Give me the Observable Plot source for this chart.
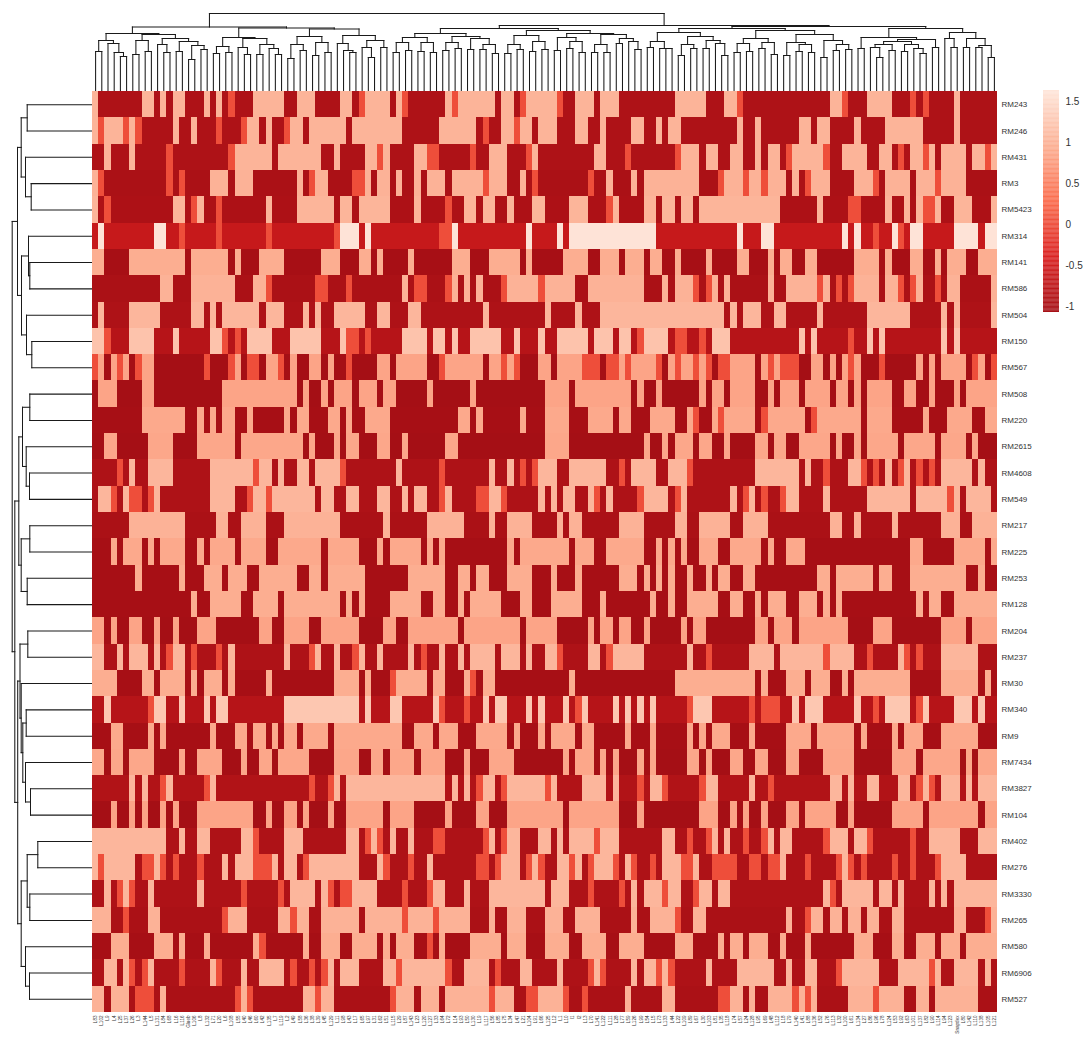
<!DOCTYPE html>
<html>
<head>
<meta charset="utf-8">
<script src="https://cdn.jsdelivr.net/npm/d3@7"></script>
<script src="https://cdn.jsdelivr.net/npm/@observablehq/plot@0.6"></script>
<style>
  html, body { margin: 0; padding: 0; background: #fff; }
  #chart { position: relative; width: 1083px; height: 1039px; overflow: hidden; }
  #chart svg { position: absolute; max-width: none; }
</style>
</head>
<body>
<div id="chart"></div>
<script>
const rowLabels = ["RM243","RM246","RM431","RM3","RM5423","RM314","RM141","RM586","RM504","RM150","RM567","RM508","RM220","RM2615","RM4608","RM549","RM217","RM225","RM253","RM128","RM204","RM237","RM30","RM340","RM9","RM7434","RM3827","RM104","RM402","RM276","RM3330","RM265","RM580","RM6906","RM527"];

const colLabels = ["L83","L102","L9","L4","L25","L37","L26","L3","L144","L5","L131","L84","L68","L16","L116","Glueb","L106","L8","L132","L71","L20","L6","L108","L55","L40","L46","L60","L42","L135","L7","L119","L2","L49","L58","L36","L38","L39","L45","L129","L11","L98","L43","L17","L65","L97","L31","L62","L51","L115","L29","L87","L143","L23","L120","L127","L33","L64","L72","L14","L93","L50","L130","L19","L117","L56","L85","L75","L34","L47","L21","L104","L91","L66","L125","L12","L1","L10","I1","I2","L13","L70","L141","L122","L111","L28","L77","L59","L126","L99","L54","L15","L73","L133","L44","L22","L109","L89","L67","L30","L103","L81","L35","L118","L74","L57","L24","L128","L95","L69","L48","L112","L18","L79","L140","L41","L88","L136","L52","L76","L113","L32","L100","L61","L134","L27","L86","L96","L78","L124","L53","L92","L63","L101","L137","L82","L90","L114","L94","L123","Snapdex","L80","L142","L110","L138","L105","L121"];

// Standardised level of each row's low and high marker state
const rowLow  = [-0.95,-0.95,-0.95,-1.0,-0.97,-0.65,-1.05,-1.0,-0.95,-0.85,-1.07,-1.07,-1.05,-1.07,-0.95,-0.95,-1.0,-1.05,-1.05,-1.05,-1.07,-0.95,-1.05,-0.85,-1.05,-1.07,-0.92,-1.07,-0.95,-0.95,-0.95,-1.0,-1.05,-0.95,-1.0];
const rowHigh = [1.02,1.02,1.02,1.0,1.03,1.6,0.95,1.0,1.05,1.2,0.85,0.85,0.9,0.88,1.05,1.05,1.0,0.9,0.95,0.95,0.85,1.05,0.95,1.25,0.9,0.88,1.05,0.85,1.05,1.05,1.05,1.0,0.95,1.05,1.0];
const rowMid = 0.02;

// Run lengths across the 146 columns: d = low state, o = middle state, l = high state
const rowRuns = [
"l1d7l2d1l1d1l2d3l1d1l1d1o1d3l5d2l3d4l2d1o1l4d1l1o1d6l1o1l6d1l2d1o1l3 l2o1d2l3d1l3d9l5d3l2o1d14l2o1d3l4d3o1d1o1d4l1d6",
"l1o1l3o1l1o1d5l1d2l1d3o1d3o1l2d1l1d2o1l2d1l6d1l8d6l6d1o1d2l2o1l2d1l1 l2d3l2d2l1d4l2d2l1d1l2d9l1d2l1d6l2d1l2d4l1d4l6d5l1d6",
"d2l1d3l1d5o1d9o1l6d1l7d2l1d4l2o1l1d4l2o2d5o1d2l3d3o1l1d1 d8l2d3o1d7o1l3d1l2d2l2d2l1d1l2d1o1l5o1d2l4d2l2d1o1d1l2o1l1d1l4d1l2o1l1",
"l1o1d10o1d1o1d4l3d1l3d7l1d1o1l2d4o2l1d1l2d1l1d2l1d1l3d1l5o1l3d2l1d1o1d1 d7o1d2l1d3l1d1l9d3o1l3o1l2o1l3d1l1d1o1l1l2d4l3o1d1l4d1l3o1l4d5",
"l1d1o1d10l2d1o1l1d2o1d7l1d4l6d1l2d1l5d4l1d4o1d2l2d1l2d2l1d3l2 d4l3d3o1l1d4l2d1l2d1l2d1l13d6l1d4o2d4l1d2l1d1l1o2l1d2l3d3l1",
"d1l1d8l2d2o1d5o1d7o1d10o1l3d1l1d11o2l1d11l1d2 d2l1d1l14d13l1d3l2d11l1d1l1d2o1d2l1o1d1l2d5l4d1l2",
"l2d4l9d1l6d1l1d3l4d6l3d3l2d1l1d4l1d6l3d3l5d1l1d2 d3l4d2l3d1l3d1l2d2l1d4l1d4l2d3l1d1l2d2l2d6l4d1l1d3l2d2l1d1l3d2l3",
"d11l2d3l7d3l2o1d7o2d3o1d8l1d1o2d3o1l1d1l1d1l1d3o1l5o1 l5d2l9d3l1d1l3o1d1o1l1d1l1d6l1d2l5o1l1d1o1d1o1l4d1l2o1d1o1l1d2o1d1l2d5l1",
"d1l1d4l5d5l2d1l1d1l6d1l3d3l1d1l1d2l5d2l2d3l2d10l1d9 l1d4l1d3l20d1l1d1l3d2l2d5l1d7l7d5l1d1l1d5l1",
"l2o1d3l4d3l1d5l2o1d1o1d1l4d3l5d3l1o2d1o1d5l4d1l2d1l1d2l5d2l1d3l1 d2l5d1l3d1l2d1o1l4d1o2d2o1d1l3d11l1d1l1d5o1d2l1d1l1d9l1d1l1d6",
"o1l1d1l1o1l1d1o1l2d8o1d3o1l1d1o2d1l2o1d1l1d2l2d1l1d2o1d4l2d1l5d2o1l6d1l2o1l1o1d3l1 l1d1l4o3d1o2l1o1l4o1d1l1o1l2o1l1o1d1o2l4d1l1o1l1o3d2l2d1l1d1l1o1l1d3o1d5l1d1l1d1l4d1o1l1d1o1",
"d1l3d4l2d11l12d1l1d2l1d1l3d1l3d1l2d5l1d6l1d11 l4d1l9d1l1d2l1d6l1d1l2d1l4d2l1d1l3d1l4d1l2d1l1d1l4d2l2d2l1d3l1d1l5",
"d8l7d2l1d1l1d1l2d2l1d5l1d1l2d3l2d1l1d2l4d11l2d1l1d6l1d3 l4d3l4d1l2d3l4d2l1o1d2l1o1l5d1o1l6d1o1l7d1l4d5l1d3l4d2l2",
"d2l2d5l4d4l6d1l10d1l1d3l1d1l2d3l2d2l1d6l2d14 l4d12l1d2l1d1l3d1l2d2l1d4l2d1l2d2l5d1l1d2l1d1l5d1l5d1l4d1l1d3",
"d4o1d1l1d2l4d6l7o1l2d1l1d2l2d1l4o1d8l1d6o1d7l1d2l1d1o1d1o1l1 l2d2l6d2o1d1l4d2l3o1d10l7d1l1d2o1d3l2o1d1o1d1l1d1o1l1d1o1d1o1d1l5d1l1d2",
"d1l2o1d1l1o2d1o1l1d8l4d2o1l2o1l7d1l2d2l2d3l2d2l1d1l2d2o1l1d4o2l2o1d5l1 d1l1d1l2d2l1o1d1l1d4o1l4d1o1l1d7l1d1o1l1d1o1d2o1l2d4l1d6l7d1l5o1l1d1l4d1",
"d6l9d5l2d2l4d3l9d7l1d6l6d4l1d2l4d2 d2l1d1l2d6l4d5l2d2l5d2l4d10l2d2l1d5l1d7l3d2l4",
"d3l1d1l3d1l1d1l4d2l1d1l4d1l4d2l7d1l5d3l1d1l5d1l1d1l1d10l1d1l4 l4d1l3d2l6d2l1d1l1d1l1d2l3d2l5d1l1d2l3d17l2d5l5d1l1",
"d7l1d6l1d3l3d1l3d2l6d2l2d1l6d7l6d2l2d1l2d3l4d2 d1l1d3l1d6l3d1l1d1l1d1l1d2l1d2l1d1l2d2l2d10l2d1l6d1l2d3l9d2l1d2",
"d16l1d2l5d2l4d1l9d1l1d1l1d4l5d2l2d2l1d1l5d3l2d2 d1l5d3l1d7l1d2l1d2l5d2l2d2l1d1l3d2l3d1l1d1l1d12l1d1l2d2l7",
"l2d1l1d2l2d2l1d2l1d3l3d7l2d2l4d2l6d4l2d2l8d1l9d1l3 l2d5l1d1l2d1l2d2l1d5l1d1l2d8l2d1l3d1l8d4l3d8l4d1l4",
"l2d2l1d1l3d1l1d1o1l2d1o1d3o1d1l1d8l1d3o1l1d2l1d2o1l1d2l1d4l1d1o1d2l1d2l1d1l4d1l3d1l1d2 l2o1d4l2d1o1l5d7l1d2o1d6l4d1l7o1l4d2o1d4l1o1d1o1d3l6d3",
"l4d4l2d1l4d1l1d1l3d1l1d5l1d10l4d1l1d3o1l5d1l2d3l1o1d1l2d8 d4l1d16l13d1l1d3l3d1l3d2l1d1l9d5l6d1l1d1",
"d2l1d6o1l2d2l1d3l1d1l2d9l12d1l1d3l2d5l1o1d3o1d2l1d1l2d3l1d1l1 d3l1d1o1l1d4l1d1l1d1l1d1l1d5o1l3d6o1d1o3d2l1d1l3d5l1d2o1d1l4d1o1l1d4l3d1l1d2",
"d3l2d4l1d1l1d7l1d3l2d1l2d1l1d1l2d1l4d1l11d2l3d1l3d3l5d1l1d3l1 d1l4d1l2d5l1d3l1d5l1d1l1d1l3d3l1d5l4d1l6d1l1d4l1d1l3d3l6d3",
"l2d1l2d1l4d4l1d2l4d3l1d2l2d1l5d4l4d2l2d1l4d1l4d3l1d3l4d5 d3l1d1l3d1l1d1l1d3l1d1l1d5l2d1l1d3l2d2l2d3l2d4l5d6l4d1l6d1l1d1l3",
"d6l1d1l1d2o1l1d5o1l1d15o1d2o1l1d1l16d1l1d1l1d1o1l2d1o1l6 o1l1d4l4d1l1d3o1d1l2o1d5o1l2d5l1d2o1d9l2d1l1d2l2d3l2d1o1l1o1d1l3d1l1d1l3",
"d3l1d2l1d1l1d2l1d1l1d3l9d2l1d2l2d1l1d3l1d2l6d1l4d5l1d4l2d3l6 l3d1l8d3l1d9l3d2l1d1l1d2l1d3l2d1l5d2l1d6l5d1l8d1l2",
"l12d2l1d2l2d5l2o1d4l3d7l2d1o1l1o1d1l1d2l1d3o2d6o1l1d1o1l2d3l1 l1d1l1d1l4o1l3d7l2d2o1d2o1l1d1l1d2o1d2o1l1d1l2d5o1l3d1l2o1d6o1d2l5d3l3",
"l1o1l5d1o2l1o1d1o1d3o1d3l1d1l3o3l1d1l2d1o1l8d3l1o1d3o1d2l1d7o2d1o1l3d1o1l1o1 d2l2o1l1d1o1l3o1d1l1o1d2o1d1l3o2l1d2o4d2o2d1o2l1d3o1d4o1l1o1d1o1d4o1d2o1d3o1l4d5",
"d2l1d1o1l1o1d2l1d7l1d6o1d5o1d1l4d1l1o1d1o2l4d4o1d3o1l2d3l1d3l9 d1l3d3o1d4o1d1l1d1l3o1l2d2o1l2d1l2d15l1o1d1l5d1l2d1l1d4l1d1l1d1l7",
"l3d2o1d3l2d10o1l3d5l2o1l2d2l6d1l6o1l4o1l5d3l1d2l3d3 l3d2l4d5l1d2l4o1d2l2d13l1d2o1l2d1l2d1l2d1l2d2l2d8l2d3o1l1",
"d3l3d4l3d1l1d3l1d7l1o1d6l1d2l3d2l4d1l1d1l3d2o1d1l1d4l5d1l3d3 l4d2l4d2l4d5l3d4l1d1l2d1l3d2l1d3l1d7l3d3l2d2l3d1l3d1l5",
"d2l2d1l1o1d1o1l1d4o1d4l1o1d3l1d2l4d1o1d2o1d1o1l1d1l1l2d4l2o1l7o1d2l4d1o1d3l2d2 d2l1d4o1l1o1d4l1d1l2o1l1o1d5l1d4l6d2l1d2l2d3o1l6d3l5o1l1d2l4d1l1d1",
"l2d1l3d1o3d1l1d11o1l1o1d8l2o1l2d9o1l3d1l3d1l7o1l3d2o2l1 l3o1d2o1d6l1d5l2d7o2l2d1l1d2l4o1l1o1l1d5l4o1l4d2l2d1l7d3"
];

// Merge trees: [merge height, left branch, right branch]; 0 is a leaf
const colTree =
[78,
  [64.5,
    [58,
      [51,[40,0,0],[48,0,[39,0,[35,0,0]]]],
      [57,
        [51,[37,0,0],[40,0,0]],
        [53,[47,0,[39,0,0]],[50,[40,0,0],[46,[32,0,0],[42,0,0]]]]]],
    [63.5,
      [54,[45,[38,0,0],[39,0,0]],[53,[44,0,[37,0,0]],[47,[37,0,0],[43,0,[37,0,0]]]]],
      [62.5,
        [55,[47,[33,0,0],[41,0,0]],[49,[36,0,0],[39,0,0]]],
        [56,[48,0,[41,0,[39,0,0]]],[51,[44,0,[34,0,0]],[44,0,0]]]]]],
  [66,
    [63,
      [58,
        [54,[49,[39,0,0],[41,0,0]],[49,[40,0,0],[39,0,0]]],
        [55,[49,[41,0,0],[43,0,0]],[53,[42,0,0],[47,[42,0,0],[38,0,0]]]]],
      [61,
        [56,[47,[38,0,0],[42,0,0]],[50,[40,0,0],[42,0,0]]],
        [58,
          [54,[41,0,0],[50,[43,0,0],[39,0,0]]],
          [57,[47,[39,0,0],[39,0,0]],[53,[48,0,0],[50,0,[42,0,0]]]]]]],
    [65,
      [63,
        [59,
          [50,[44,0,0],[43,0,[43,0,0]]],
          [55,[47,[36,0,0],[43,0,0]],[51,[43,0,0],[48,0,[36,0,0]]]]],
        [61,
          [53,[48,[39,0,0],[40,0,0]],[49,[43,0,0],[37,0,0]]],
          [57,
            [49,[36,0,0],[47,[40,0,0],[39,0,0]]],
            [51,[34,0,0],[47,[41,0,0],[42,0,0]]]]]],
      [63,
        [54,
          [43,0,0],
          [52,
            [50,[47,[44,0,[34,0,0]],[41,0,0]],[47,[40,0,0],[43,0,[38,0,0]]]],
            [44,0,0]]],
        [59,
          [53,0,[44,0,0]],
          [53,[44,0,0],[46,[44,0,0],[34,0,0]]]]]]]];

const rowTree =
[80.3,
  [75,
    [71.3,[65.3,0,0],[67,0,[61.3,0,0]]],
    [71,[64,0,[62.7,0,0]],[66,0,[60.7,0,0]]]],
  [77.7,
    [73.7,
      [70,[62.7,0,0],[66.3,0,[63,0,0]]],
      [71.3,[62.7,0,0],[65.3,0,0]]],
    [74.8,
      [72.5,[64.7,0,0],[71.3,0,[69.7,[66.3,0,0],[67,0,[62,0,0]]]]],
      [71.3,[65.3,[54.7,0,0],[62.7,0,0]],[67,0,[63,0,0]]]]]];

const colorTicks = [-1,-0.5,0,0.5,1,1.5];
const colorDomain = [-1.07,-0.3975,0.275,0.9475,1.62];
const colorRange = ["#a50f15","#da1f1f","#fb6a4a","#fcae91","#fee5d9"];

const cells = [];
rowRuns.forEach((runs, r) => {
  let c = 0;
  for (const [, state, n] of runs.matchAll(/([dol])(\d+)/g)) {
    const value = state === "d" ? rowLow[r] : state === "l" ? rowHigh[r] : rowMid;
    for (let k = 0; k < +n; k++) cells.push({col: c++, row: rowLabels[r], value});
  }
});

function treeLinks(tree) {
  const links = [];
  let next = 0;
  (function walk(node) {
    if (node === 0) return {pos: next++ + 0.5, h: 0};
    const [h, a, b] = node;
    const ca = walk(a), cb = walk(b);
    links.push({p1: ca.pos, p2: cb.pos, h1: h, h2: h});
    links.push({p1: ca.pos, p2: ca.pos, h1: ca.h, h2: h});
    links.push({p1: cb.pos, p2: cb.pos, h1: cb.h, h2: h});
    return {pos: (ca.pos + cb.pos) / 2, h};
  })(tree);
  return links;
}

const font = "'Liberation Sans', Arimo, Helvetica, sans-serif";
const color = {type: "linear", domain: colorDomain, range: colorRange, clamp: true};
const nCols = d3.range(146);

const heat = Plot.plot({
  width: 1083, height: 1039,
  marginLeft: 92, marginRight: 86, marginTop: 91, marginBottom: 27,
  style: {background: "transparent", fontFamily: font},
  x: {type: "band", domain: nCols, padding: 0, round: false},
  y: {type: "band", domain: rowLabels, padding: 0, round: false},
  color,
  marks: [
    Plot.cell(cells, {x: "col", y: "row", fill: "value", shapeRendering: "crispEdges"}),
    Plot.axisY({anchor: "right", tickSize: 0, tickPadding: 4, fontSize: 8, label: null, fill: "#333"}),
    Plot.axisX({anchor: "bottom", tickSize: 0, tickPadding: 3, fontSize: 4.6, label: null, tickRotate: -90,
                fill: "#333", tickFormat: i => colLabels[i]})
  ]
});
heat.style.left = "0px"; heat.style.top = "0px";

const topDendro = Plot.plot({
  width: 1083, height: 91,
  marginLeft: 92, marginRight: 86, marginTop: 0, marginBottom: 0,
  style: {background: "transparent"},
  x: {domain: [0, 146], axis: null},
  y: {domain: [0, 91], axis: null},
  marks: [
    Plot.link(treeLinks(colTree), {x1: "p1", x2: "p2", y1: "h1", y2: "h2", stroke: "#1a1a1a", strokeWidth: 1.05, strokeLinecap: "square"})
  ]
});
topDendro.style.left = "0px"; topDendro.style.top = "0px";

const leftDendro = Plot.plot({
  width: 92, height: 1039,
  marginLeft: 0, marginRight: 0, marginTop: 91, marginBottom: 27,
  style: {background: "transparent"},
  x: {domain: [92, 0], axis: null},
  y: {domain: [0, 35], reverse: true, axis: null},
  marks: [
    Plot.link(treeLinks(rowTree), {y1: "p1", y2: "p2", x1: "h1", x2: "h2", stroke: "#1a1a1a", strokeWidth: 1.05, strokeLinecap: "square"})
  ]
});
leftDendro.style.left = "0px"; leftDendro.style.top = "0px";

const steps = d3.range(-1.07, 1.62, 0.01);
const bar = Plot.plot({
  width: 70, height: 330,
  marginLeft: 3, marginRight: 51, marginTop: 91, marginBottom: 18,
  style: {background: "transparent", fontFamily: font},
  x: {domain: [0, 1], axis: null},
  y: {domain: [-1.07, 1.62], axis: null},
  color,
  marks: [
    Plot.rect(steps, {x1: 0, x2: 1, y1: d => d, y2: d => d + 0.012, fill: d => d}),
    Plot.axisY({anchor: "right", ticks: colorTicks, tickSize: 0, tickPadding: 6, fontSize: 10, label: null, fill: "#333", tickFormat: d => String(d)})
  ]
});
bar.style.left = "1040px"; bar.style.top = "0px";

document.getElementById("chart").append(heat, topDendro, leftDendro, bar);
</script>
</body>
</html>
